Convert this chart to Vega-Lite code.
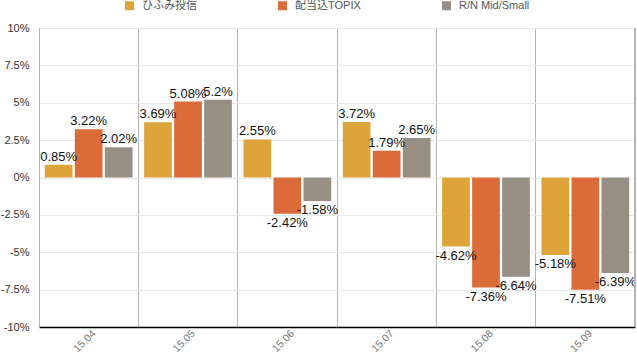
{
  "$schema": "https://vega.github.io/schema/vega-lite/v6.json",
  "width": 596,
  "height": 299,
  "autosize": "none",
  "padding": {"left": 39, "top": 28, "right": 2, "bottom": 32},
  "config": {
    "view": {"stroke": null},
    "font": "Liberation Sans, 'Noto Sans CJK JP'",
    "locale": {"number": {"decimal": ".", "thousands": ",", "grouping": [3], "currency": ["$", ""], "minus": "-"}}
  },
  "data": {
    "values": [
      {"month": "15.04", "series": "ひふみ投信", "value": 0.0085},
      {"month": "15.04", "series": "配当込TOPIX", "value": 0.0322},
      {"month": "15.04", "series": "R/N Mid/Small", "value": 0.0202},
      {"month": "15.05", "series": "ひふみ投信", "value": 0.0369},
      {"month": "15.05", "series": "配当込TOPIX", "value": 0.0508},
      {"month": "15.05", "series": "R/N Mid/Small", "value": 0.052},
      {"month": "15.06", "series": "ひふみ投信", "value": 0.0255},
      {"month": "15.06", "series": "配当込TOPIX", "value": -0.0242},
      {"month": "15.06", "series": "R/N Mid/Small", "value": -0.0158},
      {"month": "15.07", "series": "ひふみ投信", "value": 0.0372},
      {"month": "15.07", "series": "配当込TOPIX", "value": 0.0179},
      {"month": "15.07", "series": "R/N Mid/Small", "value": 0.0265},
      {"month": "15.08", "series": "ひふみ投信", "value": -0.0462},
      {"month": "15.08", "series": "配当込TOPIX", "value": -0.0736},
      {"month": "15.08", "series": "R/N Mid/Small", "value": -0.0664},
      {"month": "15.09", "series": "ひふみ投信", "value": -0.0518},
      {"month": "15.09", "series": "配当込TOPIX", "value": -0.0751},
      {"month": "15.09", "series": "R/N Mid/Small", "value": -0.0639}
    ]
  },
  "encoding": {
    "x": {
      "field": "month", "type": "nominal", "title": null,
      "scale": {"paddingInner": 0, "paddingOuter": 0},
      "axis": {
        "labelAngle": -45, "labelFontSize": 10.5, "labelColor": "#777777",
        "domainColor": "#000000", "domainWidth": 1.5, "ticks": false,
        "grid": true, "bandPosition": 0, "gridColor": "#b4b4b4", "labelPadding": 1,
        "labelOffset": 2
      }
    },
    "y": {
      "field": "value", "type": "quantitative", "title": null,
      "scale": {"domain": [-0.1, 0.1], "nice": false},
      "axis": {
        "values": [-0.1, -0.075, -0.05, -0.025, 0, 0.025, 0.05, 0.075, 0.1],
        "format": ".1~%", "ticks": false, "labelPadding": 10, "labelFontSize": 11,
        "labelColor": "#333333", "domainColor": "#b4b4b4", "gridColor": "#e8e8e8"
      }
    }
  },
  "layer": [
    {
      "mark": {"type": "bar"},
      "encoding": {
        "xOffset": {
          "field": "series", "type": "nominal",
          "sort": ["ひふみ投信", "配当込TOPIX", "R/N Mid/Small"],
          "scale": {"paddingInner": 0.077, "paddingOuter": 0.193}
        },
        "color": {
          "field": "series", "type": "nominal",
          "scale": {"domain": ["ひふみ投信", "配当込TOPIX", "R/N Mid/Small"], "range": ["#dda43a", "#dc6b3a", "#978e84"]},
          "legend": {
            "title": null, "orient": "none", "direction": "horizontal",
            "legendX": 85, "legendY": -28,
            "symbolType": "square", "symbolSize": 81, "symbolStrokeWidth": 0,
            "labelFontSize": 11, "labelColor": "#555555", "labelOffset": 7,
            "columnPadding": 80
          }
        }
      }
    },
    {
      "transform": [{"filter": "datum.value >= 0"}],
      "mark": {"type": "text", "baseline": "bottom", "dy": -1, "fontSize": 13, "color": "#111111"},
      "encoding": {
        "xOffset": {"field": "series", "type": "nominal", "sort": ["ひふみ投信", "配当込TOPIX", "R/N Mid/Small"]},
        "text": {"field": "value", "type": "quantitative", "format": ".2~%"}
      }
    },
    {
      "transform": [{"filter": "datum.value < 0"}],
      "mark": {"type": "text", "baseline": "top", "dy": 3, "fontSize": 13, "color": "#111111"},
      "encoding": {
        "xOffset": {"field": "series", "type": "nominal", "sort": ["ひふみ投信", "配当込TOPIX", "R/N Mid/Small"]},
        "text": {"field": "value", "type": "quantitative", "format": ".2~%"}
      }
    },
    {
      "mark": {"type": "rule", "color": "#b4b4b4", "strokeWidth": 1.5},
      "encoding": {
        "x": {"datum": "15.09", "type": "nominal", "bandPosition": 1},
        "y": {"datum": -0.1, "type": "quantitative"},
        "y2": {"datum": 0.1}
      }
    }
  ]
}
